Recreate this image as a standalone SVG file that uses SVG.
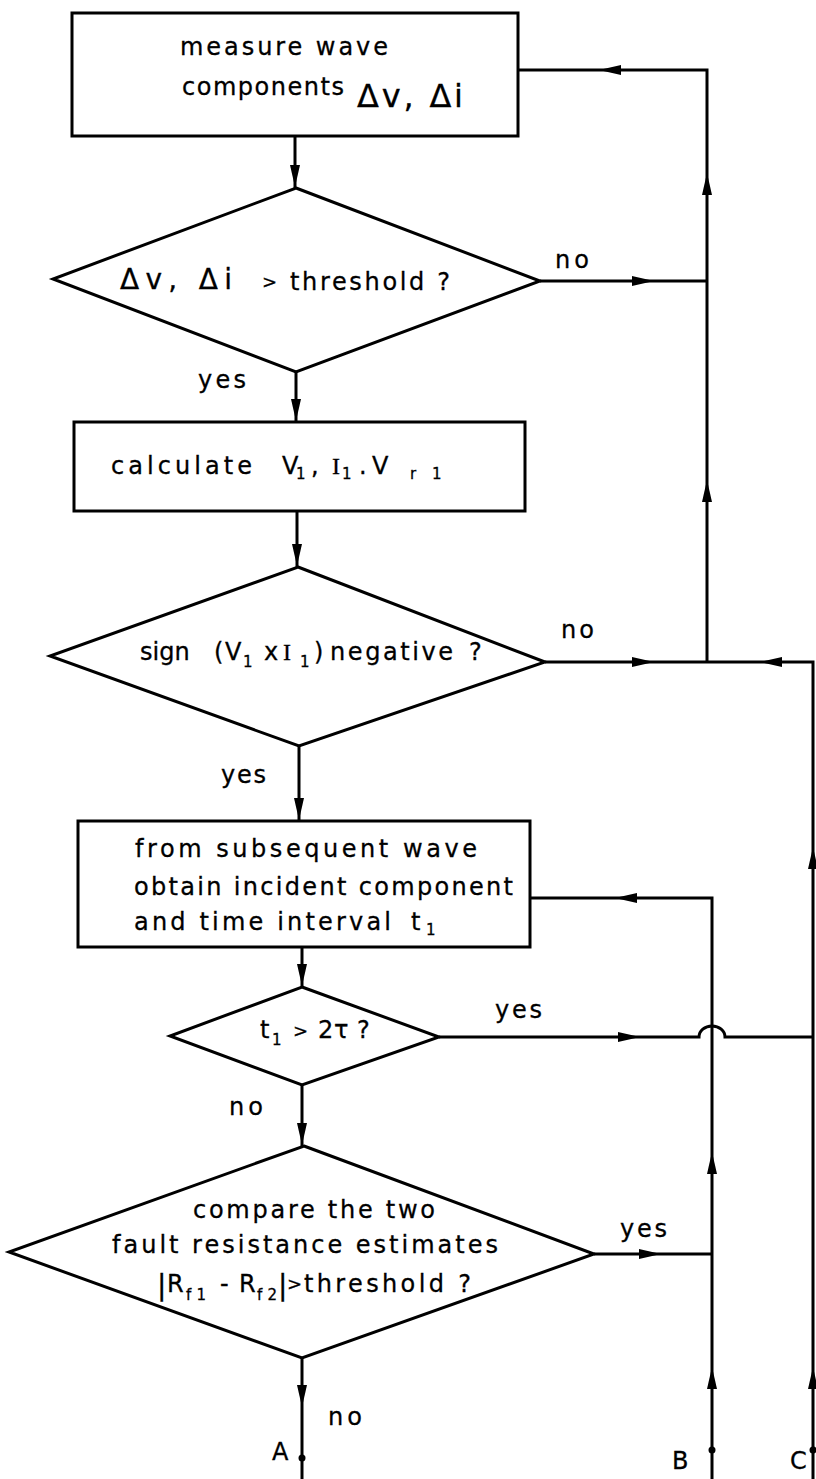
<svg xmlns="http://www.w3.org/2000/svg" xmlns:xlink="http://www.w3.org/1999/xlink" width="816" height="1479" viewBox="0 0 816 1479">
<style>
.shape{fill:#fff;stroke:#000;stroke-width:3}
.ln{fill:none;stroke:#000;stroke-width:3}
text{font-family:"DejaVu Sans","Liberation Sans",Arial,sans-serif;font-size:24px;fill:#000;stroke:#000;stroke-width:0.3}
.sub{font-size:15px}
.big{font-size:32px}
.mid{font-size:28px}
.gt{font-size:18px}
.ser{font-family:"Liberation Serif","Times New Roman",serif}
.ah{fill:#000}
.dot{fill:#000}
</style>
<defs>
<path id="ah" d="M0,0 L-22,-5 L-22,5 Z"/>
</defs>
<rect width="816" height="1479" fill="#fff"/>

<g id="connectors">
<path class="ln" d="M295,136 V188"/>
<path class="ln" d="M540,281 H707"/>
<path class="ln" d="M707,662 V70 H518"/>
<path class="ln" d="M296,372 V422"/>
<path class="ln" d="M297,511 V567"/>
<path class="ln" d="M545,662 H813 V1479"/>
<path class="ln" d="M299,746 V821"/>
<path class="ln" d="M302,947 V987"/>
<path class="ln" d="M530,898 H712 V1479"/>
<path class="ln" d="M439,1037 H699 A13,11 0 0 1 725,1037 H813"/>
<path class="ln" d="M302,1085 V1146"/>
<path class="ln" d="M594,1254 H712"/>
<path class="ln" d="M302,1358 V1479"/>
<use xlink:href="#ah" class="ah" transform="translate(295,187) rotate(90)"/>
<use xlink:href="#ah" class="ah" transform="translate(654,281)"/>
<use xlink:href="#ah" class="ah" transform="translate(707,173) rotate(-90)"/>
<use xlink:href="#ah" class="ah" transform="translate(599,70) rotate(180)"/>
<use xlink:href="#ah" class="ah" transform="translate(296,421) rotate(90)"/>
<use xlink:href="#ah" class="ah" transform="translate(297,566) rotate(90)"/>
<use xlink:href="#ah" class="ah" transform="translate(654,662)"/>
<use xlink:href="#ah" class="ah" transform="translate(760,662) rotate(180)"/>
<use xlink:href="#ah" class="ah" transform="translate(707,480) rotate(-90)"/>
<use xlink:href="#ah" class="ah" transform="translate(299,820) rotate(90)"/>
<use xlink:href="#ah" class="ah" transform="translate(302,986) rotate(90)"/>
<use xlink:href="#ah" class="ah" transform="translate(615,898) rotate(180)"/>
<use xlink:href="#ah" class="ah" transform="translate(640,1037)"/>
<use xlink:href="#ah" class="ah" transform="translate(813,847) rotate(-90)"/>
<use xlink:href="#ah" class="ah" transform="translate(302,1145) rotate(90)"/>
<use xlink:href="#ah" class="ah" transform="translate(661,1254)"/>
<use xlink:href="#ah" class="ah" transform="translate(712,1152) rotate(-90)"/>
<use xlink:href="#ah" class="ah" transform="translate(712,1367) rotate(-90)"/>
<use xlink:href="#ah" class="ah" transform="translate(813,1367) rotate(-90)"/>
<use xlink:href="#ah" class="ah" transform="translate(302,1407) rotate(90)"/>
<circle class="dot" cx="302" cy="1458" r="3.5"/>
<circle class="dot" cx="712" cy="1450" r="3.5"/>
<circle class="dot" cx="813" cy="1450" r="3.5"/>
<text x="555" y="268" textLength="34" lengthAdjust="spacing">no</text>
<text x="198" y="388" textLength="48" lengthAdjust="spacing">yes</text>
<text x="561" y="638" textLength="33" lengthAdjust="spacing">no</text>
<text x="221" y="783" textLength="45" lengthAdjust="spacing">yes</text>
<text x="495" y="1018" textLength="47" lengthAdjust="spacing">yes</text>
<text x="229" y="1115" textLength="34" lengthAdjust="spacing">no</text>
<text x="620" y="1237" textLength="47" lengthAdjust="spacing">yes</text>
<text x="328" y="1425" textLength="34" lengthAdjust="spacing">no</text>
<text x="272" y="1460">A</text>
<text x="672" y="1469">B</text>
<text x="790" y="1469">C</text>
</g>

<g id="box-measure">
<rect class="shape" x="72" y="13" width="446" height="123"/>
<text x="180" y="55" textLength="208" lengthAdjust="spacing">measure wave</text>
<text x="182" y="95" textLength="162" lengthAdjust="spacing">components</text>
<text class="big" x="357" y="107" textLength="106" lengthAdjust="spacing">Δv, Δi</text>
</g>

<g id="dec-threshold">
<polygon class="shape" points="296,188 540,281 296,372 53,279"/>
<text class="mid" x="120" y="289" textLength="112" lengthAdjust="spacing">Δv, Δi</text>
<text class="gt" x="262" y="288">&gt;</text>
<text x="290" y="290" textLength="160" lengthAdjust="spacing">threshold ?</text>
</g>

<g id="box-calculate">
<rect class="shape" x="74" y="422" width="451" height="89"/>
<text x="111" y="474" textLength="141" lengthAdjust="spacing">calculate</text>
<text x="282" y="474">V</text>
<text class="sub" x="296" y="479">1</text>
<text x="311" y="474">,</text>
<text class="ser" x="332" y="474">I</text>
<text class="sub" x="342" y="479">1</text>
<text x="359" y="474">.</text>
<text x="372" y="474">V</text>
<text class="sub" x="410" y="479">r</text>
<text class="sub" x="432" y="479">1</text>
</g>

<g id="dec-sign">
<polygon class="shape" points="298,567 545,662 299,746 50,656"/>
<text x="140" y="660">sign</text>
<text x="214" y="660">(</text>
<text x="225" y="660">V</text>
<text class="sub" x="243" y="667">1</text>
<text x="264" y="660">x</text>
<text class="ser" x="283" y="660">I</text>
<text class="sub" x="300" y="667">1</text>
<text x="314" y="660">)</text>
<text x="330" y="660" textLength="123" lengthAdjust="spacing">negative</text>
<text x="469" y="660">?</text>
</g>

<g id="box-subsequent">
<rect class="shape" x="78" y="821" width="452" height="126"/>
<text x="135" y="857" textLength="342" lengthAdjust="spacing">from subsequent wave</text>
<text x="134" y="895" textLength="379" lengthAdjust="spacing">obtain incident component</text>
<text x="134" y="930" textLength="257" lengthAdjust="spacing">and time interval</text>
<text x="411" y="930">t</text>
<text class="sub" x="426" y="935">1</text>
</g>

<g id="dec-time">
<polygon class="shape" points="302,987 439,1037 302,1085 170,1036"/>
<text x="260" y="1038">t</text>
<text class="sub" x="272" y="1045">1</text>
<text class="gt" x="293" y="1037">&gt;</text>
<text x="318" y="1038">2</text>
<text x="334" y="1038" font-size="26">τ</text>
<text x="357" y="1038">?</text>
</g>

<g id="dec-compare">
<polygon class="shape" points="304,1146 594,1254 302,1358 9,1252"/>
<text x="193" y="1218" textLength="242" lengthAdjust="spacing">compare the two</text>
<text x="112" y="1253" textLength="386" lengthAdjust="spacing">fault resistance estimates</text>
<text class="mid" x="157" y="1295">|</text>
<text x="167" y="1292">R</text>
<text class="sub" x="186" y="1300" textLength="20" lengthAdjust="spacing">f1</text>
<text x="220" y="1292">-</text>
<text x="239" y="1292">R</text>
<text class="sub" x="257" y="1300" textLength="20" lengthAdjust="spacing">f2</text>
<text class="mid" x="278" y="1295">|</text>
<text class="gt" x="287" y="1290">&gt;</text>
<text x="304" y="1292" textLength="167" lengthAdjust="spacing">threshold ?</text>
</g>
</svg>
